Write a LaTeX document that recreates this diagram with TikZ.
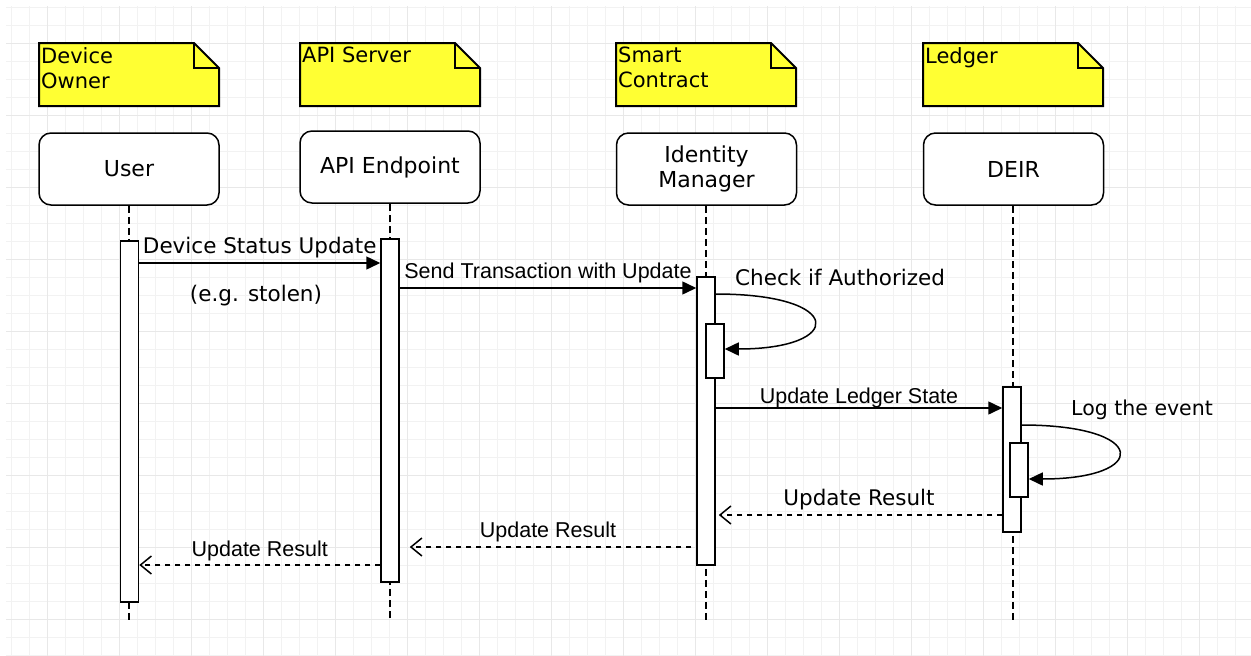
\documentclass[tikz,border=0pt]{standalone}
\usepackage{fontspec}
\setmainfont{DejaVu Sans}
\newfontfamily\helvfont{Liberation Sans}
\usepackage{xcolor}
\usepackage{tikz}
\usetikzlibrary{arrows.meta}
\definecolor{noteyellow}{HTML}{FFFF33}

\begin{document}
\begin{tikzpicture}[x=1pt, y=-1pt,
            minorgrid/.style={draw=black!5, line width=1pt},
            majorgrid/.style={draw=black!9, line width=1pt},
            notebox/.style={draw=black, fill=noteyellow, line width=2pt, line join=miter},
            notetext/.style={anchor=north west, align=left, inner xsep=2pt, inner ysep=4pt, font=\fontsize{21}{25}\selectfont},
            actor/.style={rectangle, rounded corners=12pt, draw, line width=1.5pt, fill=white, minimum width=180pt, minimum height=72pt, align=center, font=\fontsize{22}{25}\selectfont},
            lifeline/.style={line width=1.5pt, dash pattern=on 7pt off 4pt},
            bar/.style={rectangle, draw, fill=white, line width=1.5pt, minimum width=18pt, inner sep=0pt},
            msg/.style={line width=1.5pt, -{Triangle[length=14pt, width=13pt]}},
            reply/.style={line width=1.5pt, dash pattern=on 5pt off 5pt, -{Straight Barb[length=11pt, width=18pt]}},
            msgtext/.style={font=\fontsize{21.5}{25}\selectfont, inner sep=0pt},
            helvtext/.style={font=\helvfont\fontsize{21.5}{25}\selectfont, inner sep=0pt}
        ]

    \fill[white] (0,0) rectangle (1251,656);
    \useasboundingbox (0,0) rectangle (1251,656);

    % background grid
    \foreach \gx in {11,29,...,1250} \draw[minorgrid] (\gx,6) -- (\gx,656);
    \foreach \gy in {7,25,...,655} \draw[minorgrid] (6,\gy) -- (1251,\gy);
    \foreach \gx in {47,119,...,1250} \draw[majorgrid] (\gx,6) -- (\gx,656);
    \foreach \gy in {43,115,...,655} \draw[majorgrid] (6,\gy) -- (1251,\gy);

    % notes
    \foreach \nx/\nname/\ntext in {39/ownerNote/{Device\\Owner}, 300/serverNote/{API Server}, 616/contractNote/{Smart\\Contract}, 923/ledgerNote/{Ledger}} {
        \draw[notebox] (\nx,43) -- ++(155,0) -- ++(25,25) -- ++(0,38) -- ++(-180,0) -- cycle;
        \draw[notebox, fill=none] (\nx+155,43) -- ++(0,25) -- ++(25,0);
        \node[notetext] (\nname) at (\nx,43) {\ntext};
    }

    \node[actor] (user)     at (129,169)    {User};
    \node[actor] (endpoint) at (390,167)    {API Endpoint};
    \node[actor] (manager)  at (706.5,169)  {Identity\\Manager};
    \node[actor] (deir)     at (1013.5,169) {DEIR};

    \coordinate (userEnd)     at (129,620);
    \coordinate (endpointEnd) at (390,620);
    \coordinate (managerEnd)  at (706,620);
    \coordinate (deirEnd)     at (1013,620);

    \draw[lifeline] (user.south)     -- (userEnd);
    \draw[lifeline] (endpoint.south) -- (endpointEnd);
    \draw[lifeline] ([xshift=-0.5pt]manager.south) -- (managerEnd);
    \draw[lifeline] ([xshift=-0.5pt]deir.south) -- (deirEnd);

    \node[bar, minimum height=361pt] (userBar)     at (129.5,421.5) {};
    \node[bar, minimum height=343pt] (endpointBar) at (390,410.5)   {};
    \node[bar, minimum height=288pt] (managerBar)  at (706,421)     {};
    \node[bar, minimum height=54pt]  (managerSelf) at (715,351)     {};
    \node[bar, minimum height=145pt] (deirBar)     at (1012,459.5)  {};
    \node[bar, minimum height=54pt]  (deirSelf)    at (1019,470)    {};

    \foreach \rname/\ry in {statusRow/263, sendRow/288, checkStart/294, checkEnd/349, ledgerRow/408, logStart/425, logEnd/479, resultRowA/515, resultRowB/547, resultRowC/565}
        \coordinate (\rname) at (0,\ry);

    \draw[msg] (userBar.east |- statusRow) -- node[msgtext, anchor=base, yshift=10pt] (statusLabel) {Device Status Update} (endpointBar.west |- statusRow);
    \node[msgtext, anchor=base] (stolenLabel) at (256,301) {(e.g. stolen)};

    \draw[msg] (endpointBar.east |- sendRow) -- node[helvtext, anchor=base, yshift=10pt] (sendLabel) {Send Transaction with Update} (managerBar.west |- sendRow);

    \draw[msg] (managerBar.east |- checkStart) .. controls +(130,0) and +(120,0) .. (managerSelf.east |- checkEnd);
    \node[msgtext, anchor=base west] (checkLabel) at (735,285) {Check if Authorized};

    \draw[msg] (managerBar.east |- ledgerRow) -- node[helvtext, anchor=base, yshift=5pt] (ledgerLabel) {Update Ledger State} (deirBar.west |- ledgerRow);

    \draw[msg] (deirBar.east |- logStart) .. controls +(128,0) and +(121,0) .. (deirSelf.east |- logEnd);
    \node[msgtext, anchor=base west, font=\fontsize{20.5}{25}\selectfont] (logLabel) at (1071,415) {Log the event};

    \draw[reply, shorten >=3pt] (deirBar.west |- resultRowA) -- node[msgtext, anchor=base, yshift=10pt] (deirResult) {Update Result} (managerBar.east |- resultRowA);
    \draw[reply, shorten <=5pt, shorten >=10pt] (managerBar.west |- resultRowB) -- node[helvtext, anchor=base, yshift=10pt] (managerResult) {Update Result} (endpointBar.east |- resultRowB);
    \draw[reply] (endpointBar.west |- resultRowC) -- node[helvtext, anchor=base, yshift=9pt] (userResult) {Update Result} (userBar.east |- resultRowC);

\end{tikzpicture}
\end{document}
